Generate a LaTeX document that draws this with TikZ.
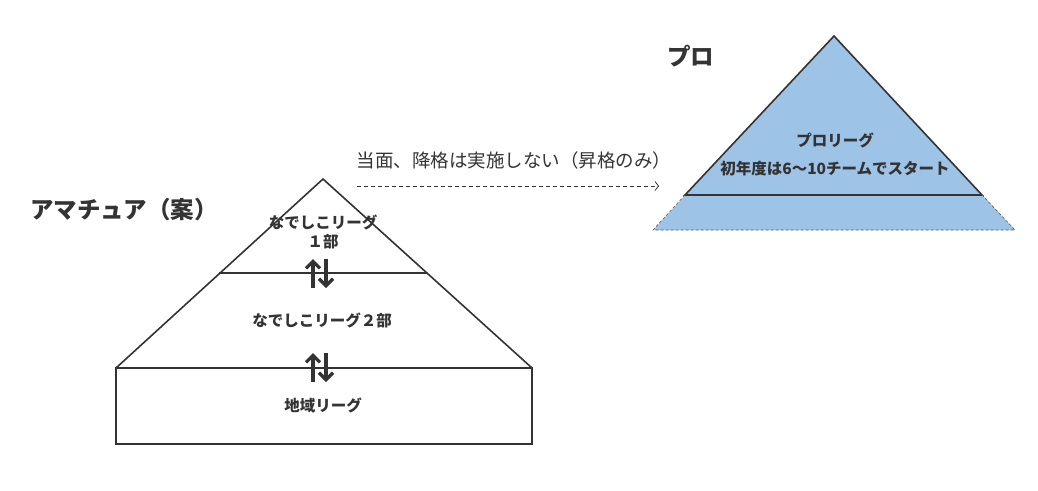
\documentclass[tikz,border=0pt]{standalone}
\usepackage{fontspec}
\newfontfamily\jp{Noto Sans CJK JP}
\usetikzlibrary{arrows.meta}
\definecolor{txt}{HTML}{333333}
\definecolor{problue}{HTML}{9DC3E6}

\begin{document}
\begin{tikzpicture}[x=1pt,y=-1pt,
    lbl/.style={font=\jp\bfseries\fontsize{15.5}{18.5}\selectfont,text=txt,align=center,inner sep=0pt},
    ttl/.style={font=\jp\bfseries\fontsize{23.5}{27}\selectfont,text=txt,inner sep=0pt,anchor=west},
    note/.style={font=\jp\fontsize{18.5}{22}\selectfont,text=txt,inner sep=0pt},
    tier/.style={draw=txt,line width=1.6pt},
    move/.style={draw=txt,line width=3.2pt,-{Straight Barb[length=7pt,width=14pt,line width=3.2pt]}},
    plan/.style={draw=txt,dash pattern=on 4pt off 3pt,line width=0.8pt,-{Straight Barb[length=3.5pt,width=9pt]}}]
  \useasboundingbox (0,0) rectangle (1038,490);

  % amateur pyramid
  \coordinate (am-top) at (323,179);
  \coordinate (am-l1) at (219,273);
  \coordinate (am-r1) at (427,273);
  \coordinate (am-l2) at (116,368);
  \coordinate (am-r2) at (532,368);
  \coordinate (am-r3) at (532,444);
  \draw[tier] (am-l2) -- (am-top) -- (am-r2);
  \draw[tier] (am-l1) -- (am-r1);
  \draw[tier] (am-l2) rectangle (am-r3);

  % pro pyramid
  \coordinate (pro-top) at (834,36);
  \coordinate (pro-l1) at (685,195);
  \coordinate (pro-r1) at (982,195);
  \coordinate (pro-l2) at (653,230);
  \coordinate (pro-r2) at (1015,230);
  \fill[problue] (pro-top) -- (pro-r2) -- (pro-l2) -- cycle;
  \draw[tier] (pro-l1) -- (pro-top) -- (pro-r1) -- cycle;
  \draw[draw=txt!80,densely dashed,line width=0.6pt] (pro-l1) -- (pro-l2) -- (pro-r2) -- (pro-r1);

  % titles and labels
  \node[ttl] (amateur) at (30,210) {アマチュア（案）};
  \node[ttl] (pro) at (667,56) {プロ};
  \node[lbl] (div1) at (323,232) {なでしこリーグ\\１部};
  \node[lbl] (div2) at (322,320) {なでしこリーグ２部};
  \node[lbl] (region) at (323,405) {地域リーグ};
  \node[lbl] (proleague) at (835,140) {プロリーグ};
  \node[lbl] (start) at (835,169) {初年度は6〜10チームでスタート};
  \node[note] (policy) at (514,160) {当面、降格は実施しない（昇格のみ）};

  % promotion / relegation
  \coordinate (up1-s) at (313,288);
  \coordinate (up1-e) at (313,259);
  \coordinate (dn1-s) at (326,259);
  \coordinate (dn1-e) at (326,288);
  \coordinate (up2-s) at (313,382);
  \coordinate (up2-e) at (313,353);
  \coordinate (dn2-s) at (326,353);
  \coordinate (dn2-e) at (326,382);
  \draw[move] (up1-s) -- (up1-e);
  \draw[move] (dn1-s) -- (dn1-e);
  \draw[move] (up2-s) -- (up2-e);
  \draw[move] (dn2-s) -- (dn2-e);

  \coordinate (plan-s) at (357,186);
  \coordinate (plan-e) at (659,186);
  \draw[plan] (plan-s) -- (plan-e);
\end{tikzpicture}
\end{document}
